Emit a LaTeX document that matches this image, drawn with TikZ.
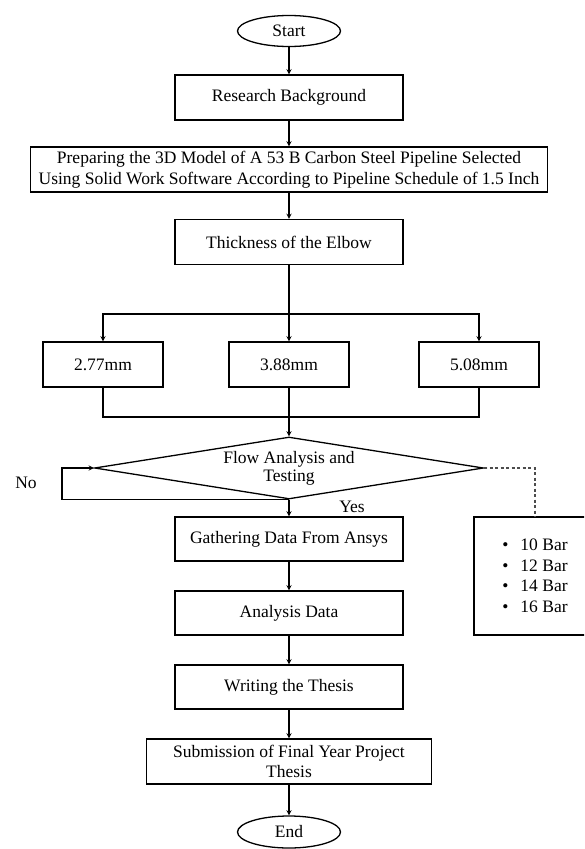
\documentclass[tikz,border=0pt]{standalone}
\usepackage{fontspec}
\setmainfont{Liberation Serif}
\usepackage{tikz}
\usetikzlibrary{arrows,shapes,positioning}
\tikzstyle{arrow} = [line width=1.3pt,->,>=stealth]
\tikzstyle{conn} = [line width=1.3pt]
\tikzstyle{dashconn} = [line width=1.1pt, dash pattern=on 3pt off 2.5pt, black!70]
\tikzstyle{process} = [rectangle, draw, line width=1.3pt, minimum width=228pt, minimum height=45pt, align=center]
\tikzstyle{thickbox} = [process, minimum width=120pt]
\tikzstyle{startstop} = [ellipse, draw, line width=1.3pt, minimum width=103pt, minimum height=31pt]
\tikzstyle{decision} = [diamond, draw, line width=1.3pt, aspect=6.27, minimum width=389pt, minimum height=62pt, inner sep=0pt, align=center, font=\fontsize{17.5}{18}\selectfont]

\begin{document}
\begin{tikzpicture}[x=1pt, y=-1pt, font=\fontsize{17.5}{20.5}\selectfont]
\useasboundingbox (0,0) rectangle (584,849);
\clip (0,0) rectangle (584,849);

% Main column
\node[startstop] (start) at (289,31) {Start};
\node[process] (research) at (289,97.5) {Research Background};
\node[process, inner xsep=8pt] (model) at (289,169.5) {Preparing the 3D Model of A 53 B Carbon Steel Pipeline Selected\\Using Solid Work Software According to Pipeline Schedule of 1.5 Inch};
\node[process] (elbow) at (289,242) {Thickness of the Elbow};

% Elbow thickness options
\coordinate (split) at (289,314);
\node[thickbox] (t277) at (103,364.5) {2.77mm};
\node[thickbox] (t388) at (289,364.5) {3.88mm};
\node[thickbox] (t508) at (479,364.5) {5.08mm};
\coordinate (merge) at (289,417);

% Flow analysis decision
\node[decision] (flow) at (289,468) {Flow Analysis and\\Testing};
\coordinate (noloop) at (62,483);
\node (no) at (26,483) {No};
\node (yes) at (352,507) {Yes};
\node[rectangle, draw, line width=1.3pt, minimum width=122pt, minimum height=118pt, align=left] (bars) at (535,576) {\textbullet\hspace{12pt}10 Bar\\\textbullet\hspace{12pt}12 Bar\\\textbullet\hspace{12pt}14 Bar\\\textbullet\hspace{12pt}16 Bar};

\node[process, minimum height=44pt] (gather) at (289,539) {Gathering Data From Ansys};
\node[process, minimum height=44pt] (analysis) at (289,613) {Analysis Data};
\node[process, minimum height=44pt] (writing) at (289,687) {Writing the Thesis};
\node[process, minimum width=285pt] (submit) at (289,761.5) {Submission of Final Year Project\\Thesis};
\node[startstop, minimum height=32pt] (end) at (289,832) {End};

% Connectors
\draw[arrow] (start) -- (research);
\draw[arrow] (research) -- (model);
\draw[arrow] (model) -- (elbow);
\draw[conn] (elbow) -- (split);
\foreach \t in {t277,t388,t508}
  \draw[arrow] (split) -| (\t);
\foreach \t in {t277,t508}
  \draw[conn] (\t) |- (merge);
\draw[arrow] (t388) -- (flow);
\draw[arrow] (flow.south) -| (noloop) |- (flow.west);
\draw[dashconn] (flow.east) -| (bars.north);
\draw[arrow] (flow.south) -- (gather.north);
\draw[arrow] (gather) -- (analysis);
\draw[arrow] (analysis) -- (writing);
\draw[arrow] (writing) -- (submit);
\draw[arrow] (submit) -- (end);
\end{tikzpicture}
\end{document}
